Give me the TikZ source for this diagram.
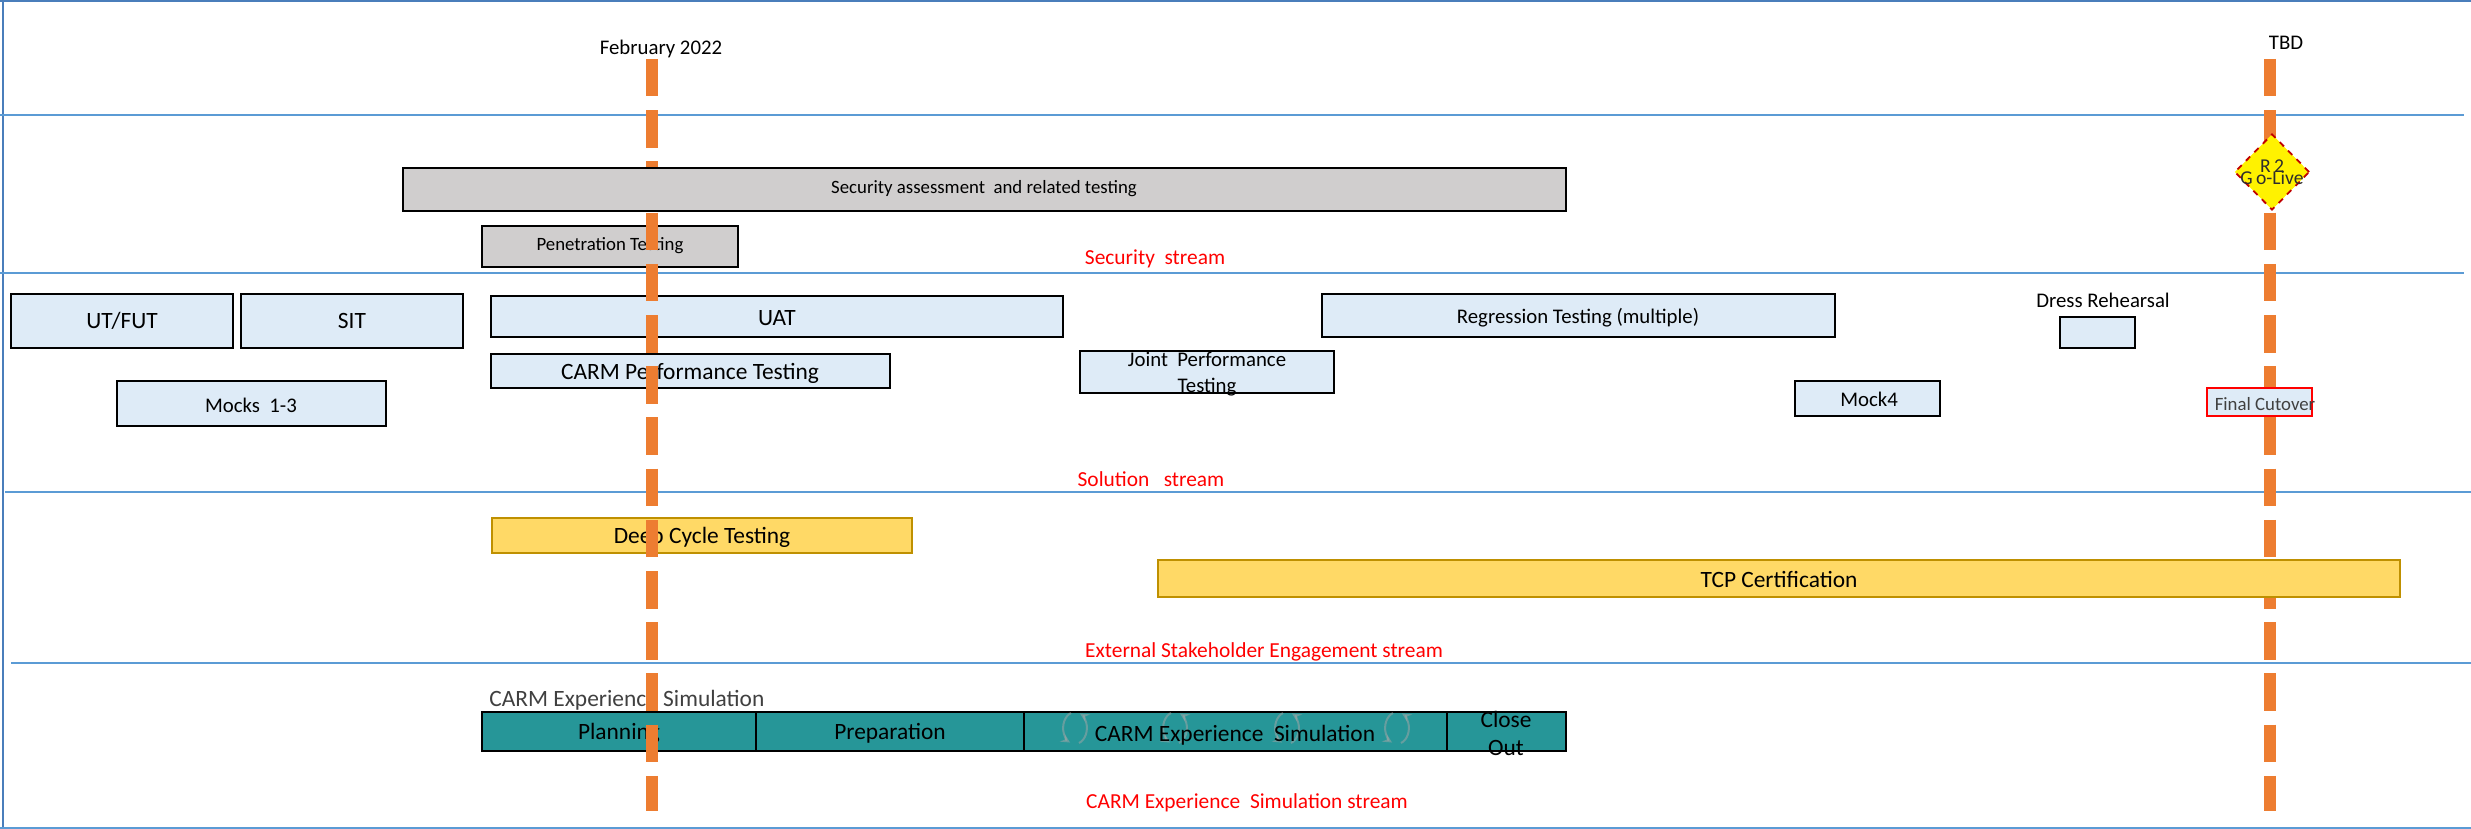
\documentclass[tikz,border=0pt]{standalone}
\usepackage{fontspec}
\setmainfont{Carlito}
\usetikzlibrary{shapes.geometric}
\definecolor{laneblue}{HTML}{5B9BD5}
\definecolor{frameblue}{HTML}{4A7EBB}
\definecolor{milestone}{HTML}{ED7D31}
\definecolor{boxblue}{HTML}{DEEBF7}
\definecolor{boxgray}{HTML}{D0CECE}
\definecolor{boxgold}{HTML}{FFD966}
\definecolor{edgegold}{HTML}{BF9000}
\definecolor{simteal}{HTML}{269698}
\definecolor{streamred}{HTML}{FF0000}
\definecolor{golivered}{HTML}{C00000}
\definecolor{labelgray}{HTML}{404040}

\begin{document}
\begin{tikzpicture}[x=0.5pt,y=-0.5pt,
  bigtxt/.style={font=\fontsize{11.7}{14}\selectfont},
  midtxt/.style={font=\fontsize{10.4}{13}\selectfont},
  smalltxt/.style={font=\fontsize{9.4}{11}\selectfont},
  lane/.style={draw=laneblue,line width=1pt},
  solbox/.style={draw=black,line width=1pt,fill=boxblue},
  secbox/.style={draw=black,line width=1pt,fill=boxgray},
  extbox/.style={draw=edgegold,line width=1pt,fill=boxgold},
  simbox/.style={draw=black,line width=1pt,fill=simteal},
  finalbox/.style={draw=streamred,line width=1pt,fill=boxblue},
  stream/.style={text=streamred,font=\fontsize{10.7}{13}\selectfont},
  mile/.style={draw=milestone,line width=6pt,dash pattern=on 18.75pt off 6.85pt},
  golive/.style={diamond,draw=golivered,fill=yellow,line width=0.9pt,dash pattern=on 3pt off 3pt,minimum width=37.5pt,minimum height=38pt,inner sep=0pt},
  ghost/.style={draw=gray!70,opacity=0.5,line width=1pt,->,>=stealth}]
\useasboundingbox (0,0) rectangle (2471,829);
\draw[frameblue,line width=1pt] (0,1) -- (2471,1);
\draw[frameblue,line width=1pt] (3,0) -- (3,829);
\draw[lane] (0,828) -- (2471,828);
\foreach \y in {115,273}
\draw[lane] (0,\y) -- (2464,\y);
\draw[lane] (5,492) -- (2471,492);
\draw[lane] (11,663) -- (2471,663);

\begin{scope}
\draw[secbox] (482,226) rectangle (738,267);
\node[smalltxt] (pentest) at (610,246) {Penetration Testing};
\node[stream] (secstream) at (1155,259) {Security\ \ stream};
\end{scope}

\begin{scope}
\draw[solbox] (11,294) rectangle (233,348);
\node[bigtxt] (utfut) at (122,321) {UT/FUT};
\draw[solbox] (241,294) rectangle (463,348);
\node[bigtxt] (sit) at (352,321) {SIT};
\draw[solbox] (491,296) rectangle (1063,337);
\node[bigtxt] (uat) at (777,318) {UAT};
\draw[solbox] (1322,294) rectangle (1835,337);
\node[midtxt] (regtest) at (1578,318) {Regression Testing (multiple)};
\draw[solbox] (491,354) rectangle (890,388);
\node[bigtxt] (carmperf) at (690,373) {CARM Performance Testing};
\draw[solbox] (117,381) rectangle (386,426);
\node[midtxt] (mocks) at (251,405) {Mocks\ \ 1-3};
\draw[solbox] (1080,351) rectangle (1334,393);
\node[midtxt,align=center] (jointperf) at (1207,374) {Joint\ \ Performance\\Testing};
\node[midtxt] (dressreh) at (2103,300) {Dress Rehearsal};
\draw[solbox] (2060,317) rectangle (2135,348);
\draw[solbox] (1795,381) rectangle (1940,416);
\node[midtxt] (mockfour) at (1869,399) {Mock4};
\node[stream] (solstream) at (1151,479) {Solution\ \ \ stream};
\end{scope}

\begin{scope}
\draw[extbox] (492,518) rectangle (912,553);
\node[bigtxt] (deepcycle) at (702,537) {Deep Cycle Testing};
\node[stream] (extstream) at (1264,652) {External Stakeholder Engagement stream};
\end{scope}

\begin{scope}
\node[bigtxt,text=labelgray,anchor=west,inner sep=0pt] (carmlabel) at (489,700) {CARM Experience Simulation};
\draw[simbox] (482,712) rectangle (756,751);
\node[bigtxt] (planning) at (619,733) {Planning};
\draw[simbox] (756,712) rectangle (1024,751);
\node[bigtxt] (preparation) at (890,733) {Preparation};
\draw[simbox] (1024,712) rectangle (1447,751);
\foreach \x in {1075,1175,1287,1397}
{\draw[ghost] (\x-4,713) arc[start angle=250,end angle=115,x radius=12,y radius=16];
\draw[ghost] (\x+4,743) arc[start angle=70,end angle=-65,x radius=12,y radius=16];}
\node[bigtxt] (carmsim) at (1235,735) {CARM Experience\ \ Simulation};
\draw[simbox] (1447,712) rectangle (1566,751);
\node[bigtxt,align=center] (closeout) at (1506,733) {Close\\Out};
\node[stream] (simstream) at (1247,803) {CARM Experience\ \ Simulation stream};
\end{scope}

\node[midtxt] (feb) at (661,49) {February 2022};
\node[midtxt] (tbd) at (2286,43) {TBD};
\coordinate (febtop) at (652,59);
\coordinate (febbot) at (652,811);
\coordinate (tbdtop) at (2270,59);
\coordinate (tbdbot) at (2270,811);
\draw[mile] (febtop) -- (febbot);
\draw[mile] (tbdtop) -- (tbdbot);

\draw[secbox] (403,168) rectangle (1566,211);
\node[smalltxt] (secassess) at (984,189) {Security assessment\ \ and related testing};
\draw[extbox] (1158,560) rectangle (2400,597);
\node[bigtxt] (tcpcert) at (1779,579) {TCP Certification};
\node[golive] (milestonedia) at (2272,172) {};
\node[font=\fontsize{9.8}{11}\selectfont,text=labelgray!70!black] (rtwo) at (2272,166) {R\,2};
\node[font=\fontsize{9.8}{11}\selectfont,text=labelgray!70!black] (golivetxt) at (2272,178) {G\,o-Live};
\draw[finalbox] (2207,388) rectangle (2312,416);
\node[smalltxt,text=labelgray] (finalcut) at (2265,404) {Final Cutover};
\end{tikzpicture}
\end{document}
